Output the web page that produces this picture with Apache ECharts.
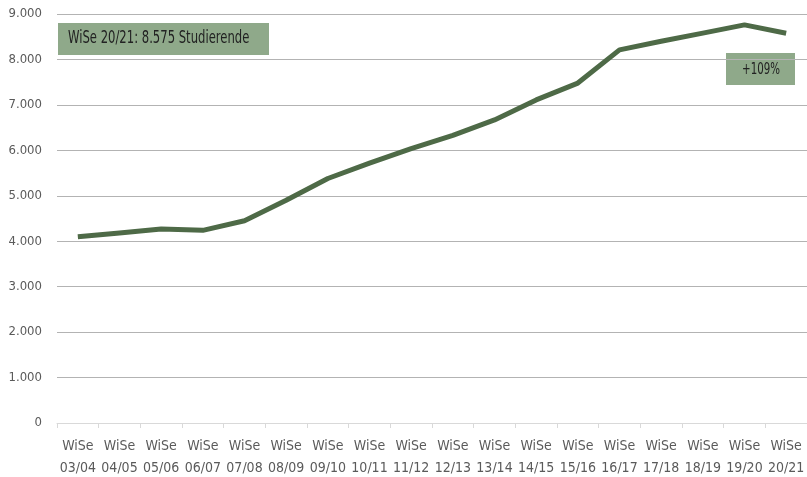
<html>
<head>
<meta charset="utf-8" />
<script src="https://cdn.jsdelivr.net/npm/echarts@6/dist/echarts.min.js"></script>
<style>
  body { margin: 0; background: #fff; }
  #chart { width: 807px; height: 477px; }
</style>
</head>
<body>
<div id="chart"></div>
<script type="text/javascript">
    var semesters = ['03/04', '04/05', '05/06', '06/07', '07/08', '08/09', '09/10', '10/11', '11/12',
        '12/13', '13/14', '14/15', '15/16', '16/17', '17/18', '18/19', '19/20', '20/21'];
    var students = [4100, 4180, 4270, 4240, 4450, 4900, 5380, 5720, 6040,
        6330, 6670, 7110, 7480, 8210, 8400, 8580, 8760, 8575];
    var yTicks = [0, 1000, 2000, 3000, 4000, 5000, 6000, 7000, 8000, 9000];
    var boxText = 'WiSe 20/21: 8.575 Studierende';
    var growthText = '+109%';

    var font = "'DejaVu Sans Condensed'";
    var lineColor = '#4e6a47';
    var boxColor = '#8fa98a';

    var chart = echarts.init(document.getElementById('chart'));
    var option = {
        animation: false,
        grid: { left: 57, right: 0, top: 14, bottom: 54, outerBoundsMode: 'none' },
        xAxis: {
            type: 'category',
            boundaryGap: true,
            data: semesters,
            axisLine: { lineStyle: { color: '#d9d9d9', width: 1 } },
            axisTick: { show: true, length: 5, lineStyle: { color: '#d9d9d9' } },
            axisLabel: {
                interval: 0,
                margin: 12,
                color: '#5a5a5a',
                fontFamily: font,
                fontSize: 14,
                lineHeight: 22,
                formatter: function (v) { return 'WiSe\n' + v; }
            }
        },
        yAxis: {
            type: 'value',
            min: yTicks[0],
            max: yTicks[yTicks.length - 1],
            interval: 1000,
            axisLine: { show: false },
            axisTick: { show: false },
            splitLine: { lineStyle: { color: '#b3b3b3', width: 1 } },
            axisLabel: {
                margin: 15,
                color: '#5a5a5a',
                fontFamily: font,
                fontSize: 13,
                formatter: function (v) {
                    return v === 0 ? '0' : String(v).replace(/\B(?=(\d{3})+(?!\d))/g, '.');
                }
            }
        },
        series: [{
            type: 'line',
            data: students,
            symbol: 'none',
            lineStyle: { color: lineColor, width: 5, join: 'round' }
        }],
        graphic: [{
            type: 'group',
            left: 58,
            top: 23,
            children: [{
                type: 'rect',
                shape: { x: 0, y: 0, width: 211, height: 32 },
                style: { fill: boxColor }
            }, {
                type: 'text',
                x: 10,
                y: 16,
                scaleX: 0.76,
                style: {
                    text: boxText,
                    fill: '#222',
                    font: '17px ' + font,
                    textVerticalAlign: 'middle'
                }
            }]
        }, {
            type: 'group',
            left: 726,
            top: 53,
            children: [{
                type: 'rect',
                shape: { x: 0, y: 0, width: 69, height: 32 },
                style: { fill: boxColor }
            }, {
                type: 'text',
                x: 35,
                y: 17,
                scaleX: 0.76,
                style: {
                    text: growthText,
                    fill: '#222',
                    font: '15px ' + font,
                    textAlign: 'center',
                    textVerticalAlign: 'middle'
                }
            }]
        }]
    };
    chart.setOption(option);
</script>
</body>
</html>
